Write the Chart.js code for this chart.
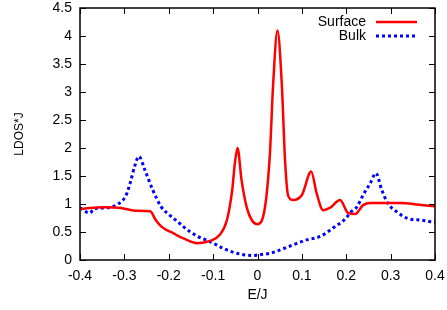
<!DOCTYPE html>
<html>
<head>
<meta charset="utf-8">
<script src="https://cdn.jsdelivr.net/npm/chart.js@4"></script>
<style>
  html, body { margin: 0; padding: 0; background: #fff; }
  #wrap { width: 447px; height: 310px; }
</style>
</head>
<body>
<div id="wrap"><canvas id="ldos" width="447" height="310"></canvas></div>
<script>
// Energy (E/J) and LDOS*J
const surfaceE = [-0.400, -0.377, -0.344, -0.308, -0.276, -0.242, -0.229, -0.217, -0.206, -0.190,
  -0.179, -0.168, -0.136, -0.107, -0.085, -0.069, -0.057, -0.051, -0.045, -0.036,
  -0.024, -0.012, 0.000, 0.017, 0.028, 0.035, 0.045, 0.055, 0.062, 0.069,
  0.080, 0.100, 0.121, 0.133, 0.148, 0.163, 0.186, 0.204, 0.220, 0.238,
  0.254, 0.291, 0.325, 0.359, 0.400];
const surfaceLdos = [0.91, 0.93, 0.94, 0.93, 0.88, 0.87, 0.71, 0.60, 0.54, 0.48,
  0.43, 0.39, 0.30, 0.34, 0.45, 0.71, 1.25, 1.73, 2.00, 1.43,
  0.93, 0.70, 0.64, 0.95, 1.90, 3.10, 4.10, 3.10, 1.79, 1.15,
  1.07, 1.16, 1.58, 1.20, 0.89, 0.93, 1.07, 0.84, 0.82, 0.98,
  1.02, 1.02, 1.02, 0.99, 0.96];

const bulkE = [-0.400, -0.378, -0.367, -0.344, -0.314, -0.296, -0.285, -0.277, -0.267, -0.254,
  -0.236, -0.217, -0.198, -0.179, -0.168, -0.137, -0.107, -0.078, -0.047, -0.010,
  0.000, 0.028, 0.051, 0.080, 0.111, 0.141, 0.170, 0.201, 0.208, 0.224,
  0.238, 0.254, 0.267, 0.280, 0.294, 0.314, 0.339, 0.370, 0.400];
const bulkLdos = [0.93, 0.84, 0.92, 0.93, 1.00, 1.16, 1.43, 1.67, 1.85, 1.61,
  1.25, 0.95, 0.80, 0.68, 0.60, 0.43, 0.33, 0.21, 0.12, 0.08,
  0.09, 0.12, 0.18, 0.27, 0.36, 0.42, 0.57, 0.76, 0.84, 0.95,
  1.16, 1.37, 1.55, 1.25, 1.01, 0.86, 0.74, 0.71, 0.67];

const xTicks = [-0.4, -0.3, -0.2, -0.1, 0, 0.1, 0.2, 0.3, 0.4];
const yTicks = [0, 0.5, 1, 1.5, 2, 2.5, 3, 3.5, 4, 4.5];

const FONT = { family: "'Liberation Sans', Arial, sans-serif", size: 14 };

const toPoints = (xs, ys) => xs.map((x, i) => ({ x: x, y: ys[i] }));
const fmt = v => String(Number(v.toFixed(1)));

// gnuplot style: closed frame, ticks pointing inwards on all sides, key at top right
const frameAndKey = {
  id: 'frameAndKey',
  afterDatasetsDraw(chart) {
    const { ctx, chartArea: a, scales: { x, y } } = chart;
    const tick = 6;
    ctx.save();
    ctx.strokeStyle = '#000';
    ctx.lineWidth = 1;
    ctx.beginPath();
    x.ticks.forEach(t => {
      const px = Math.round(x.getPixelForValue(t.value)) + 0.5;
      ctx.moveTo(px, a.bottom); ctx.lineTo(px, a.bottom - tick);
      ctx.moveTo(px, a.top); ctx.lineTo(px, a.top + tick);
    });
    y.ticks.forEach(t => {
      const py = Math.round(y.getPixelForValue(t.value)) + 0.5;
      ctx.moveTo(a.left, py); ctx.lineTo(a.left + tick, py);
      ctx.moveTo(a.right, py); ctx.lineTo(a.right - tick, py);
    });
    ctx.stroke();
    ctx.lineWidth = 1.5;
    ctx.strokeRect(a.left, a.top, a.width, a.height);

    // key
    ctx.font = FONT.size + 'px ' + FONT.family;
    ctx.textAlign = 'right';
    ctx.textBaseline = 'middle';
    chart.data.datasets.forEach((ds, i) => {
      const ly = a.top + 14 + i * 14;
      ctx.fillStyle = '#000';
      ctx.fillText(ds.label, a.right - 69, ly);
      ctx.strokeStyle = ds.borderColor;
      ctx.lineWidth = ds.borderWidth;
      ctx.setLineDash(ds.borderDash || []);
      ctx.beginPath();
      ctx.moveTo(a.right - 59, ly);
      ctx.lineTo(a.right - 18, ly);
      ctx.stroke();
      ctx.setLineDash([]);
    });
    ctx.restore();
  }
};

new Chart(document.getElementById('ldos'), {
  type: 'scatter',
  data: {
    datasets: [
      {
        label: 'Surface',
        data: toPoints(surfaceE, surfaceLdos),
        showLine: true,
        borderColor: '#ff0000',
        borderWidth: 2.5,
        pointRadius: 0,
        cubicInterpolationMode: 'monotone'
      },
      {
        label: 'Bulk',
        data: toPoints(bulkE, bulkLdos),
        showLine: true,
        borderColor: '#0000ff',
        borderWidth: 3,
        borderDash: [3, 3],
        pointRadius: 0,
        cubicInterpolationMode: 'monotone'
      }
    ]
  },
  options: {
    responsive: false,
    animation: false,
    layout: { padding: { top: 8, right: 12, left: 0, bottom: 0 } },
    plugins: { legend: { display: false }, tooltip: { enabled: false } },
    scales: {
      x: {
        type: 'linear',
        min: -0.4,
        max: 0.4,
        afterBuildTicks: s => { s.ticks = xTicks.map(v => ({ value: v })); },
        afterFit: s => { s.height = 50; s.paddingLeft = 0; s.paddingRight = 0; },
        grid: { display: false, drawTicks: false },
        border: { display: false },
        ticks: { color: '#000', font: FONT, padding: 8, maxRotation: 0, callback: fmt },
        title: { display: true, text: 'E/J', color: '#000', font: FONT, padding: { top: 0, bottom: 6 } }
      },
      y: {
        min: 0,
        max: 4.5,
        afterBuildTicks: s => { s.ticks = yTicks.map(v => ({ value: v })); },
        afterFit: s => { s.width = 80; s.paddingTop = 0; s.paddingBottom = 0; },
        grid: { display: false, drawTicks: false },
        border: { display: false },
        ticks: { color: '#000', font: FONT, padding: 8, callback: fmt },
        title: { display: true, text: 'LDOS*J', color: '#000', font: { family: FONT.family, size: 12 }, padding: { top: 12, bottom: 0 } }
      }
    }
  },
  plugins: [frameAndKey]
});
</script>
</body>
</html>
